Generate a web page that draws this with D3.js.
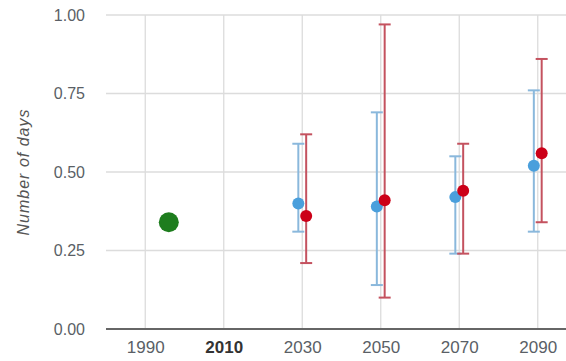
<!DOCTYPE html>
<html>
<head>
<meta charset="utf-8">
<script src="https://cdn.jsdelivr.net/npm/d3@7"></script>
<style>
  html, body { margin: 0; padding: 0; background: #fff; }
  svg { display: block; font-family: Arial, "Liberation Sans", sans-serif; }
</style>
</head>
<body>
<svg id="chart" width="566" height="361"></svg>
<script>
// Observed baseline
const baselineYear = 1996;
const baselineValue = 0.34;

// Projection periods
const periods = [2030, 2050, 2070, 2090];

// Scenario A (blue): median and range
const blueMid  = [0.40, 0.39, 0.42, 0.52];
const blueLow  = [0.31, 0.14, 0.24, 0.31];
const blueHigh = [0.59, 0.69, 0.55, 0.76];

// Scenario B (red): median and range
const redMid  = [0.36, 0.41, 0.44, 0.56];
const redLow  = [0.21, 0.10, 0.24, 0.34];
const redHigh = [0.62, 0.97, 0.59, 0.86];

const xTicks = [1990, 2010, 2030, 2050, 2070, 2090];
const yTicks = [0, 0.25, 0.5, 0.75, 1.0];

const svg = d3.select("#chart");
const x = d3.scaleLinear().domain([1980, 2100]).range([106, 577]);
const y = d3.scaleLinear().domain([0, 1]).range([329, 15]);

// grid
const grid = svg.append("g");
grid.selectAll("line.h").data(yTicks.filter(d => d > 0)).join("line")
  .attr("x1", 106).attr("x2", 566)
  .attr("y1", d => y(d)).attr("y2", d => y(d))
  .attr("stroke", "#dcdcdc").attr("stroke-width", 1.3);
grid.selectAll("line.v").data(xTicks).join("line")
  .attr("x1", d => x(d)).attr("x2", d => x(d))
  .attr("y1", y(1)).attr("y2", y(0))
  .attr("stroke", "#dcdcdc").attr("stroke-width", 1.3);

// y axis labels
const yAxis = d3.axisLeft(y).tickValues(yTicks).tickFormat(d3.format(".2f")).tickSize(0).tickPadding(0);
const gy = svg.append("g").attr("transform", "translate(85,0)").call(yAxis);
gy.select(".domain").remove();
gy.selectAll("text").attr("font-size", 16).attr("fill", "#5a5f66")
  .attr("font-family", "Arial, 'Liberation Sans', sans-serif");

// x axis
const xAxis = d3.axisBottom(x).tickValues(xTicks).tickFormat(d3.format("d")).tickSize(0).tickPadding(12);
const gx = svg.append("g").attr("transform", `translate(0,${y(0)})`).call(xAxis);
gx.select(".domain").remove();
gx.selectAll("text").attr("font-size", 17)
  .attr("font-family", "Arial, 'Liberation Sans', sans-serif")
  .attr("font-weight", d => d === 2010 ? "bold" : null)
  .attr("fill", d => d === 2010 ? "#333" : "#5a5f66");
svg.append("line").attr("x1", 106).attr("x2", 566)
  .attr("y1", y(0)).attr("y2", y(0))
  .attr("stroke", "#666").attr("stroke-width", 2);

// y title
svg.append("text")
  .attr("transform", `translate(29,${y(0.5)}) rotate(-90)`)
  .attr("text-anchor", "middle")
  .attr("font-size", 16).attr("font-style", "italic").attr("fill", "#555")
  .attr("letter-spacing", 1)
  .text("Number of days");

// error bars + points
function drawSeries(mid, low, high, offset, barColor, dotColor) {
  const data = periods.map((p, i) => ({ p, mid: mid[i], low: low[i], high: high[i] }));
  const g = svg.append("g");
  const cap = 6;
  g.selectAll("line.stem").data(data).join("line")
    .attr("x1", d => x(d.p + offset)).attr("x2", d => x(d.p + offset))
    .attr("y1", d => y(d.low)).attr("y2", d => y(d.high))
    .attr("stroke", barColor).attr("stroke-width", 2);
  g.selectAll("line.top").data(data).join("line")
    .attr("x1", d => x(d.p + offset) - cap).attr("x2", d => x(d.p + offset) + cap)
    .attr("y1", d => y(d.high)).attr("y2", d => y(d.high))
    .attr("stroke", barColor).attr("stroke-width", 2);
  g.selectAll("line.bot").data(data).join("line")
    .attr("x1", d => x(d.p + offset) - cap).attr("x2", d => x(d.p + offset) + cap)
    .attr("y1", d => y(d.low)).attr("y2", d => y(d.low))
    .attr("stroke", barColor).attr("stroke-width", 2);
  g.selectAll("circle").data(data).join("circle")
    .attr("cx", d => x(d.p + offset)).attr("cy", d => y(d.mid))
    .attr("r", 6).attr("fill", dotColor);
}
drawSeries(blueMid, blueLow, blueHigh, -1, "#8ab8dc", "#4a9fdc");
drawSeries(redMid, redLow, redHigh, 1, "#c4525f", "#cc0018");

// baseline point
svg.append("circle")
  .attr("cx", x(baselineYear)).attr("cy", y(baselineValue))
  .attr("r", 10).attr("fill", "#1e7d1e");
</script>
</body>
</html>
